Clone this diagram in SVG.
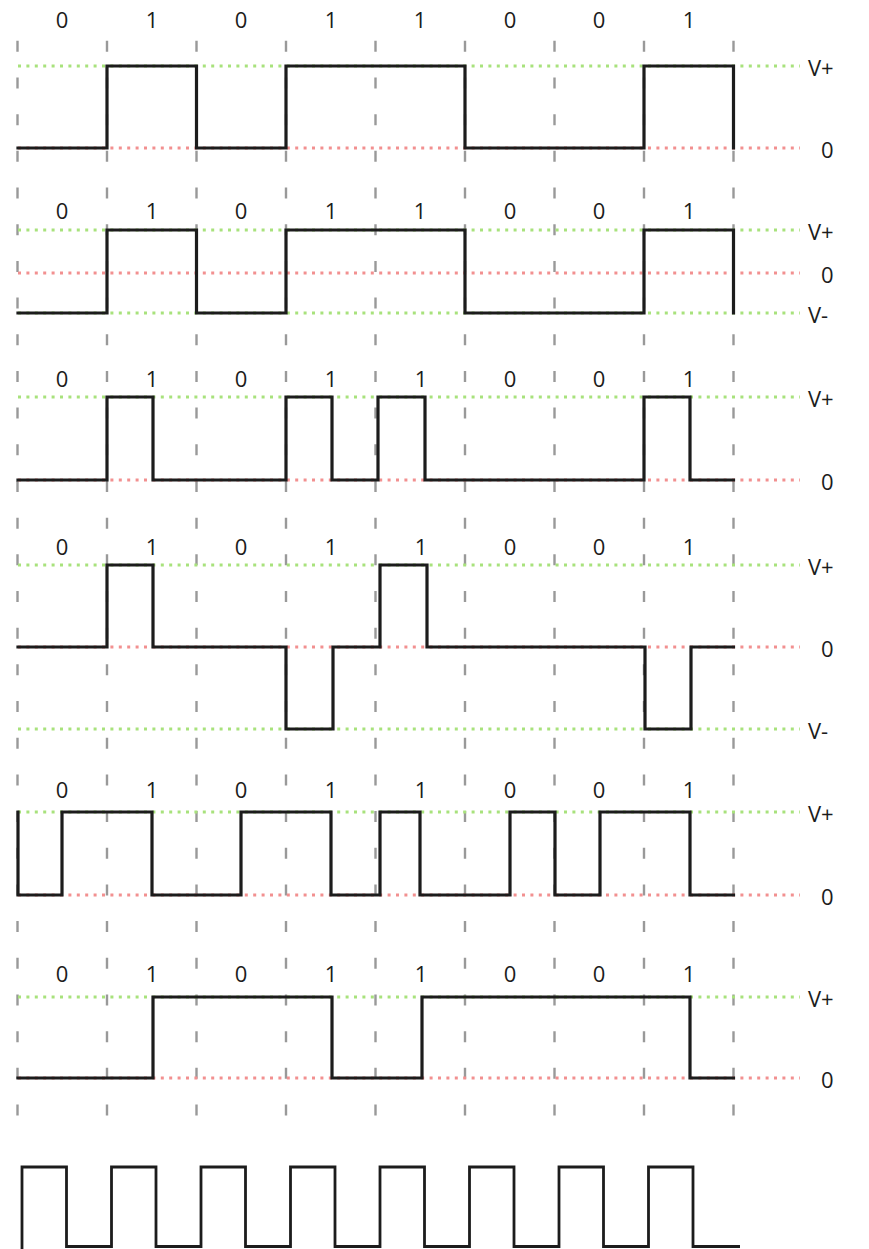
<svg xmlns="http://www.w3.org/2000/svg" width="869" height="1249" viewBox="0 0 869 1249">
<style>
.grid{stroke:#999999;stroke-width:2.4;stroke-dasharray:11 25.68;fill:none}
.lvp{stroke:#a8e27c;stroke-width:2.8;stroke-dasharray:3 5.4;fill:none}
.lv0{stroke:#f29090;stroke-width:2.8;stroke-dasharray:3 5.4;fill:none}
.wave{stroke:#1c1c1c;stroke-width:3.2;fill:none;stroke-linejoin:miter;stroke-linecap:square}
.clk{stroke:#1c1c1c;stroke-width:2.8;fill:none;stroke-linejoin:miter}
.bit{font-family:"Open Sans","Liberation Sans",sans-serif;font-size:22px;fill:#1c1c1c;text-anchor:middle}
.lvl{font-family:"Open Sans","Liberation Sans",sans-serif;font-size:22px;fill:#1c1c1c}
</style>
<rect width="869" height="1249" fill="#ffffff"/>
<g id="grid">
<line class="grid" x1="17.5" y1="40.8" x2="17.5" y2="1115.5"/>
<line class="grid" x1="107" y1="40.8" x2="107" y2="1115.5"/>
<line class="grid" x1="196.5" y1="40.8" x2="196.5" y2="1115.5"/>
<line class="grid" x1="286" y1="40.8" x2="286" y2="1115.5"/>
<line class="grid" x1="375.5" y1="40.8" x2="375.5" y2="1115.5"/>
<line class="grid" x1="465" y1="40.8" x2="465" y2="1115.5"/>
<line class="grid" x1="554.5" y1="40.8" x2="554.5" y2="1115.5"/>
<line class="grid" x1="644" y1="40.8" x2="644" y2="1115.5"/>
<line class="grid" x1="733.5" y1="40.8" x2="733.5" y2="1115.5"/>
</g>
<g id="levels">
<line class="lvp" x1="18" y1="66" x2="800" y2="66"/>
<line class="lv0" x1="18" y1="148" x2="800" y2="148"/>
<line class="lvp" x1="18" y1="230" x2="800" y2="230"/>
<line class="lv0" x1="18" y1="273" x2="800" y2="273"/>
<line class="lvp" x1="18" y1="313" x2="800" y2="313"/>
<line class="lvp" x1="18" y1="397" x2="800" y2="397"/>
<line class="lv0" x1="18" y1="480" x2="800" y2="480"/>
<line class="lvp" x1="18" y1="565" x2="800" y2="565"/>
<line class="lv0" x1="18" y1="647" x2="800" y2="647"/>
<line class="lvp" x1="18" y1="729" x2="800" y2="729"/>
<line class="lvp" x1="18" y1="812" x2="800" y2="812"/>
<line class="lv0" x1="18" y1="895" x2="800" y2="895"/>
<line class="lvp" x1="18" y1="997" x2="800" y2="997"/>
<line class="lv0" x1="18" y1="1078" x2="800" y2="1078"/>
</g>
<g id="row1">
<text class="bit" x="62" y="28">0</text><text class="bit" x="152" y="28">1</text><text class="bit" x="241" y="28">0</text><text class="bit" x="331" y="28">1</text><text class="bit" x="420" y="28">1</text><text class="bit" x="510" y="28">0</text><text class="bit" x="599" y="28">0</text><text class="bit" x="689" y="28">1</text>
<path class="wave" d="M18,148 H107 V66 H196.5 V148 H286 V66 H465 V148 H644 V66 H733.5 V148"/>
<text class="lvl" x="808" y="76">V+</text><text class="lvl" x="821" y="158">0</text>
</g>
<g id="row2">
<text class="bit" x="62" y="219">0</text><text class="bit" x="152" y="219">1</text><text class="bit" x="241" y="219">0</text><text class="bit" x="331" y="219">1</text><text class="bit" x="420" y="219">1</text><text class="bit" x="510" y="219">0</text><text class="bit" x="599" y="219">0</text><text class="bit" x="689" y="219">1</text>
<path class="wave" d="M18,313 H107 V230 H196.5 V313 H286 V230 H465 V313 H644 V230 H733.5 V313"/>
<text class="lvl" x="808" y="240">V+</text><text class="lvl" x="821" y="283">0</text><text class="lvl" x="808" y="323">V-</text>
</g>
<g id="row3">
<text class="bit" x="62" y="387">0</text><text class="bit" x="152" y="387">1</text><text class="bit" x="241" y="387">0</text><text class="bit" x="331" y="387">1</text><text class="bit" x="421" y="387">1</text><text class="bit" x="510" y="387">0</text><text class="bit" x="599" y="387">0</text><text class="bit" x="689" y="387">1</text>
<path class="wave" d="M18,480 H107 V397 H153 V480 H286 V397 H332 V480 H378 V397 H425 V480 H644 V397 H690 V480 H733.5"/>
<text class="lvl" x="808" y="407">V+</text><text class="lvl" x="821" y="490">0</text>
</g>
<g id="row4">
<text class="bit" x="62" y="555">0</text><text class="bit" x="152" y="555">1</text><text class="bit" x="241" y="555">0</text><text class="bit" x="331" y="555">1</text><text class="bit" x="421" y="555">1</text><text class="bit" x="510" y="555">0</text><text class="bit" x="599" y="555">0</text><text class="bit" x="689" y="555">1</text>
<path class="wave" d="M18,647 H107 V565 H153 V647 H286 V729 H333 V647 H380 V565 H427 V647 H645 V729 H691 V647 H733.5"/>
<text class="lvl" x="808" y="575">V+</text><text class="lvl" x="821" y="657">0</text><text class="lvl" x="808" y="739">V-</text>
</g>
<g id="row5">
<text class="bit" x="62" y="798">0</text><text class="bit" x="152" y="798">1</text><text class="bit" x="241" y="798">0</text><text class="bit" x="331" y="798">1</text><text class="bit" x="421" y="798">1</text><text class="bit" x="510" y="798">0</text><text class="bit" x="599" y="798">0</text><text class="bit" x="689" y="798">1</text>
<path class="wave" d="M18,812 V895 H62 V812 H152 V895 H241 V812 H331 V895 H380 V812 H420 V895 H510 V812 H555 V895 H600 V812 H690 V895 H733.5"/>
<text class="lvl" x="808" y="822">V+</text><text class="lvl" x="821" y="905">0</text>
</g>
<g id="row6">
<text class="bit" x="62" y="982">0</text><text class="bit" x="152" y="982">1</text><text class="bit" x="241" y="982">0</text><text class="bit" x="331" y="982">1</text><text class="bit" x="421" y="982">1</text><text class="bit" x="510" y="982">0</text><text class="bit" x="599" y="982">0</text><text class="bit" x="689" y="982">1</text>
<path class="wave" d="M18,1078 H153 V997 H332 V1078 H422 V997 H690 V1078 H733.5"/>
<text class="lvl" x="808" y="1007">V+</text><text class="lvl" x="821" y="1088">0</text>
</g>
<g id="clock">
<path class="clk" d="M22,1249 V1167 H66.5 V1246.5 H111.5 V1167 H156 V1246.5 H201 V1167 H245.5 V1246.5 H290.5 V1167 H335 V1246.5 H380 V1167 H424.5 V1246.5 H469.5 V1167 H514 V1246.5 H559 V1167 H603.5 V1246.5 H648.5 V1167 H693 V1246.5 H740"/>
</g>
</svg>
